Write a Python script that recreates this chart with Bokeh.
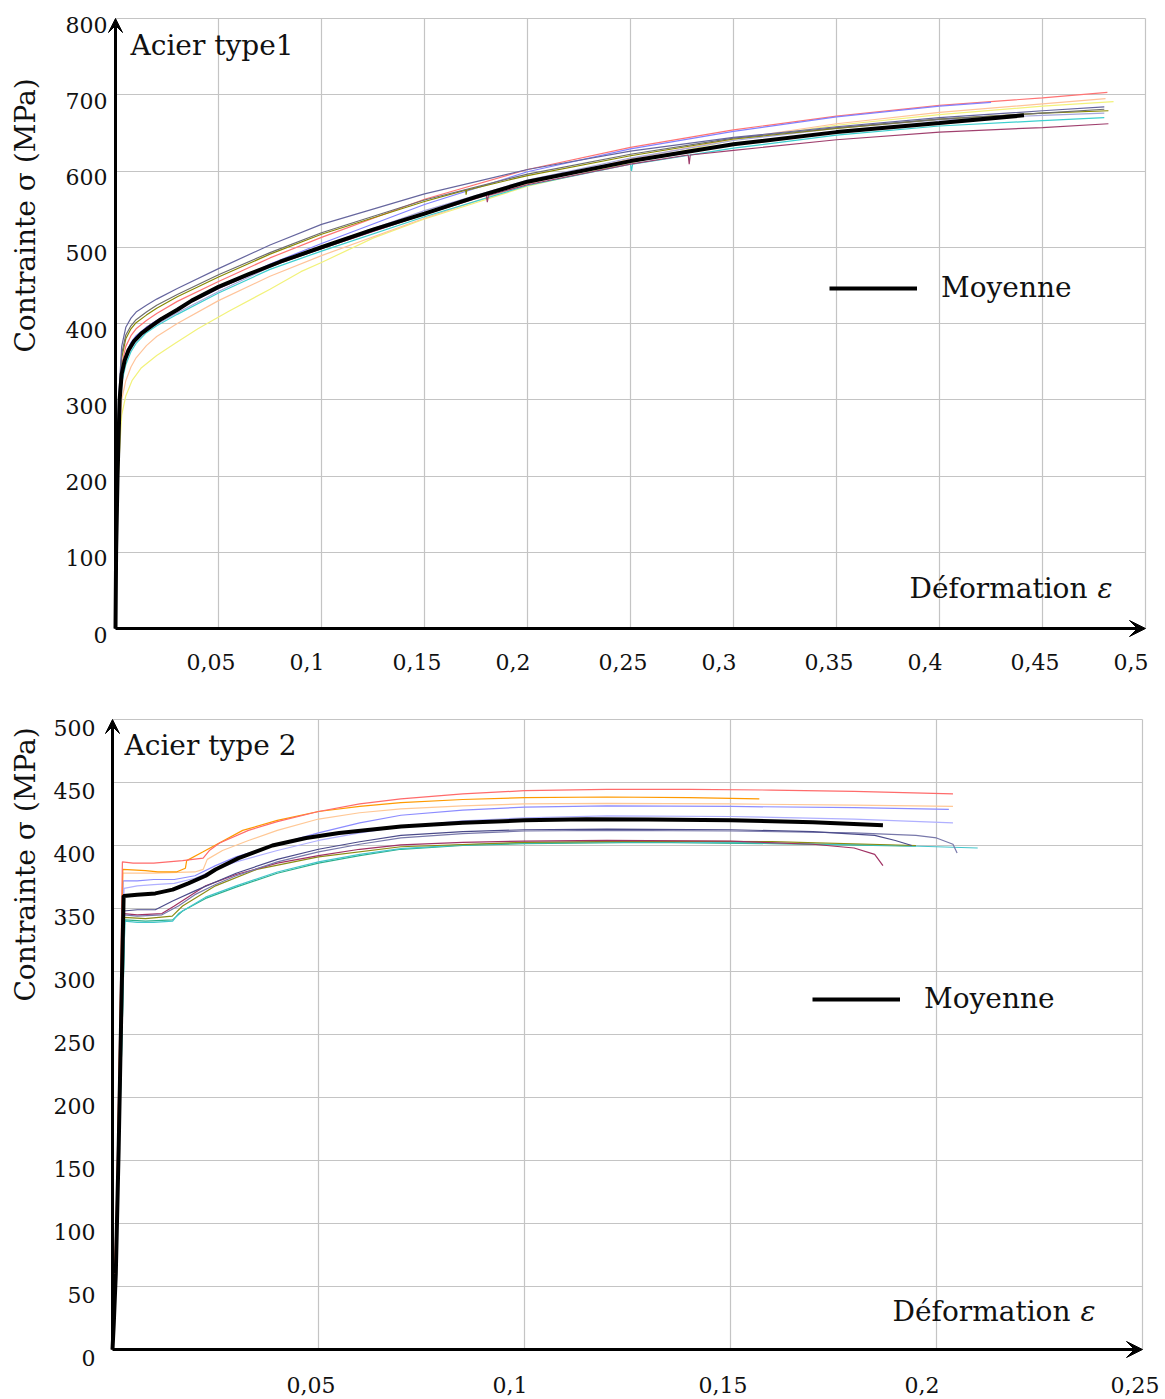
import math
from bokeh.plotting import figure
from bokeh.models import (Arrow, VeeHead, Grid, FixedTicker, ColumnDataSource,
                          Legend, LegendItem, Range1d)
from bokeh.layouts import column
from bokeh.embed import file_html
from bokeh.resources import INLINE
from bokeh.core.properties import value

FONT = "DejaVu Serif"

# ------------------------------------------------------------------ data: chart 1
t1_xticks = [0.05, 0.1, 0.15, 0.2, 0.25, 0.3, 0.35, 0.4, 0.45, 0.5]
t1_xlabels = ["0,05", "0,1", "0,15", "0,2", "0,25", "0,3", "0,35", "0,4", "0,45", "0,5"]
t1_yticks = [0, 100, 200, 300, 400, 500, 600, 700, 800]
t1_ylabels = ["0", "100", "200", "300", "400", "500", "600", "700", "800"]

t1_mean_x = [0, 0.0003, 0.001, 0.002, 0.003, 0.0045, 0.0063, 0.009, 0.0126, 0.0175, 0.0223, 0.03, 0.037, 0.05, 0.065, 0.08, 0.1, 0.125, 0.15, 0.175, 0.2, 0.25, 0.3, 0.35, 0.4, 0.441]
t1_mean_y = [0, 100, 200, 300, 334, 352, 365, 377, 387, 397, 406, 418, 430, 448, 465, 481, 500, 523, 544, 566, 586, 613, 635, 651, 663, 673]

t1_slate_x = [0, 0.0005, 0.0015, 0.003, 0.005, 0.0075, 0.01, 0.015, 0.02, 0.03, 0.05, 0.075, 0.1, 0.15, 0.2, 0.25, 0.3, 0.35, 0.4, 0.45, 0.48]
t1_slate_y = [0, 160, 300, 370, 395, 407, 415, 424, 432, 446, 472, 503, 530, 570, 602, 626, 644, 658, 670, 679, 684]

t1_gray_x = [0, 0.0005, 0.0015, 0.003, 0.005, 0.0075, 0.01, 0.015, 0.02, 0.03, 0.05, 0.075, 0.1, 0.15, 0.2, 0.25, 0.3, 0.35, 0.4, 0.45, 0.48]
t1_gray_y = [0, 150, 290, 360, 385, 397, 405, 415, 424, 438, 464, 493, 519, 562, 596, 622, 643, 657, 668, 676, 681]

t1_olive_x = [0, 0.0005, 0.0015, 0.003, 0.005, 0.0075, 0.01, 0.015, 0.02, 0.03, 0.05, 0.075, 0.1, 0.15, 0.17, 0.1702, 0.1705, 0.2, 0.25, 0.3, 0.35, 0.4, 0.45, 0.482]
t1_olive_y = [0, 150, 285, 355, 380, 393, 401, 411, 420, 435, 461, 491, 517, 560, 575, 569, 575, 594, 620, 642, 656, 668, 676, 679]

t1_red_x = [0, 0.0005, 0.0015, 0.003, 0.005, 0.0075, 0.01, 0.015, 0.02, 0.03, 0.05, 0.075, 0.1, 0.15, 0.2, 0.25, 0.3, 0.35, 0.4, 0.45, 0.4815]
t1_red_y = [0, 140, 270, 345, 370, 384, 393, 404, 413, 429, 455, 486, 513, 563, 602, 631, 654, 672, 686, 696, 703]

t1_blue_x = [0, 0.0005, 0.0015, 0.003, 0.005, 0.0075, 0.01, 0.015, 0.02, 0.03, 0.05, 0.075, 0.1, 0.15, 0.2, 0.25, 0.3, 0.35, 0.4, 0.425]
t1_blue_y = [0, 140, 270, 337, 360, 375, 384, 395, 404, 419, 446, 478, 505, 556, 599, 629, 652, 671, 685, 690]

t1_lav_x = [0, 0.0005, 0.0015, 0.003, 0.005, 0.0075, 0.01, 0.015, 0.02, 0.03, 0.05, 0.075, 0.1, 0.15, 0.2, 0.25, 0.3, 0.35, 0.4, 0.45, 0.48]
t1_lav_y = [0, 135, 265, 330, 352, 367, 377, 390, 399, 414, 442, 474, 501, 548, 588, 617, 640, 656, 667, 673, 676]

t1_maroon_x = [0, 0.0005, 0.0015, 0.003, 0.005, 0.0075, 0.01, 0.015, 0.02, 0.03, 0.05, 0.075, 0.1, 0.15, 0.18, 0.1805, 0.181, 0.2, 0.25, 0.278, 0.2785, 0.279, 0.3, 0.35, 0.4, 0.45, 0.482]
t1_maroon_y = [0, 135, 265, 335, 358, 372, 382, 395, 404, 419, 446, 475, 498, 543, 568, 559, 568, 582, 609, 621, 609, 621, 627, 641, 651, 657, 662]

t1_cyan_x = [0, 0.0005, 0.0015, 0.003, 0.005, 0.0075, 0.01, 0.015, 0.02, 0.03, 0.05, 0.075, 0.1, 0.15, 0.2, 0.25, 0.2505, 0.251, 0.3, 0.35, 0.4, 0.45, 0.48]
t1_cyan_y = [0, 130, 255, 322, 346, 363, 374, 388, 397, 412, 440, 471, 495, 540, 581, 609, 600, 609, 630, 647, 659, 666, 670]

t1_peach_x = [0, 0.0005, 0.0015, 0.003, 0.005, 0.0075, 0.01, 0.015, 0.02, 0.03, 0.05, 0.075, 0.1, 0.15, 0.2, 0.25, 0.3, 0.35, 0.4, 0.45, 0.4806]
t1_peach_y = [0, 120, 240, 300, 325, 343, 355, 371, 383, 400, 430, 462, 489, 538, 583, 616, 642, 662, 677, 688, 695]

t1_yellow_x = [0, 0.0005, 0.0015, 0.003, 0.005, 0.008, 0.0126, 0.02, 0.029, 0.04, 0.055, 0.075, 0.09, 0.1, 0.125, 0.15, 0.2, 0.25, 0.3, 0.35, 0.4, 0.45, 0.4845]
t1_yellow_y = [0, 100, 210, 280, 305, 325, 342, 358, 374, 393, 416, 445, 468, 480, 512, 537, 580, 611, 641, 660, 674, 685, 691]

# ------------------------------------------------------------------ data: chart 2
t2_xticks = [0.05, 0.1, 0.15, 0.2, 0.25]
t2_xlabels = ["0,05", "0,1", "0,15", "0,2", "0,25"]
t2_yticks = [0, 50, 100, 150, 200, 250, 300, 350, 400, 450, 500]
t2_ylabels = ["0", "50", "100", "150", "200", "250", "300", "350", "400", "450", "500"]

t2_mean_x = [0, 0.0003, 0.0008, 0.0015, 0.0022, 0.0027, 0.006, 0.0104, 0.0146, 0.0184, 0.0226, 0.025, 0.0306, 0.0388, 0.047, 0.055, 0.07, 0.085, 0.1, 0.115, 0.13, 0.15, 0.17, 0.187]
t2_mean_y = [0, 20, 60, 160, 280, 360, 361, 362, 365, 370, 376, 381, 390, 400, 406, 410, 415, 418, 420, 420.8, 420.6, 420, 418.5, 416]

t2_red_x = [0, 0.001, 0.002, 0.0024, 0.005, 0.01, 0.017, 0.022, 0.0235, 0.026, 0.033, 0.04, 0.05, 0.06, 0.07, 0.085, 0.1, 0.12, 0.14, 0.16, 0.18, 0.204]
t2_red_y = [0, 120, 300, 387, 386, 386, 388, 390, 396, 402, 412, 419, 427, 433, 437, 441, 443.5, 444.5, 444.5, 444, 443, 441]

t2_orange_x = [0, 0.001, 0.002, 0.0025, 0.008, 0.011, 0.0155, 0.0177, 0.018, 0.022, 0.0316, 0.04, 0.05, 0.06, 0.07, 0.085, 0.1, 0.12, 0.14, 0.157]
t2_orange_y = [0, 110, 290, 381, 380, 379, 379, 382, 388, 395, 412, 420, 427, 431, 434, 436.5, 438, 438.5, 438, 437]

t2_peach_x = [0, 0.001, 0.002, 0.0025, 0.01, 0.02, 0.022, 0.023, 0.0267, 0.033, 0.04, 0.05, 0.06, 0.07, 0.085, 0.1, 0.12, 0.15, 0.18, 0.204]
t2_peach_y = [0, 105, 280, 378, 378, 379, 381, 389, 396, 404, 412, 421, 426, 429, 431.5, 433, 433.5, 433, 432, 431]

t2_blue_x = [0, 0.001, 0.002, 0.0026, 0.006, 0.01, 0.015, 0.02, 0.025, 0.03, 0.04, 0.05, 0.06, 0.07, 0.085, 0.1, 0.12, 0.15, 0.18, 0.203]
t2_blue_y = [0, 100, 270, 372, 372, 373, 373, 376, 384, 391, 401, 410, 418, 424, 428, 430.5, 431.5, 431, 430, 428.6]

t2_lav_x = [0, 0.001, 0.002, 0.0028, 0.006, 0.01, 0.015, 0.02, 0.025, 0.03, 0.04, 0.05, 0.06, 0.07, 0.085, 0.1, 0.12, 0.15, 0.18, 0.204]
t2_lav_y = [0, 90, 250, 366, 368, 369, 370, 374, 381, 387, 396, 404, 410, 415, 419.5, 422, 423.5, 423, 421, 418]

t2_slate1_x = [0, 0.001, 0.002, 0.0027, 0.006, 0.0104, 0.0146, 0.02, 0.025, 0.03, 0.04, 0.05, 0.06, 0.07, 0.085, 0.1, 0.12, 0.15, 0.17, 0.185, 0.19, 0.194]
t2_slate1_y = [0, 90, 240, 348, 349, 349, 356, 364, 371, 378, 389, 397, 403, 408, 411, 412.5, 413, 412.5, 411, 408, 404, 400]

t2_slate2_x = [0, 0.001, 0.002, 0.0028, 0.006, 0.012, 0.016, 0.02, 0.025, 0.03, 0.04, 0.05, 0.06, 0.07, 0.085, 0.1, 0.12, 0.15, 0.18, 0.195, 0.2, 0.204, 0.205]
t2_slate2_y = [0, 85, 230, 345, 344, 345, 352, 361, 369, 376, 387, 395, 401, 406, 409.5, 411.5, 412, 411.5, 410, 408, 406, 401, 394]

t2_maroon_x = [0, 0.001, 0.002, 0.0027, 0.006, 0.012, 0.015, 0.0226, 0.03, 0.04, 0.05, 0.06, 0.07, 0.085, 0.1, 0.12, 0.15, 0.17, 0.18, 0.185, 0.187]
t2_maroon_y = [0, 90, 230, 346, 345, 346, 352, 368, 377, 386, 392, 397, 400.5, 402.5, 403.5, 404, 403.5, 401, 398, 393, 384]

t2_olive_x = [0, 0.001, 0.002, 0.0027, 0.008, 0.0145, 0.017, 0.025, 0.035, 0.05, 0.07, 0.1, 0.13, 0.16, 0.195]
t2_olive_y = [0, 85, 220, 343, 342, 344, 352, 368, 381, 391, 399, 402.5, 403.5, 403, 400]

t2_cyan_x = [0, 0.001, 0.002, 0.003, 0.006, 0.01, 0.0146, 0.016, 0.0226, 0.03, 0.04, 0.05, 0.06, 0.07, 0.085, 0.1, 0.13, 0.16, 0.19, 0.21]
t2_cyan_y = [0, 80, 210, 340, 339, 339, 340, 346, 359, 368, 379, 387, 393, 397.5, 400.5, 402, 403, 402, 400, 398]

t2_teal_x = [0, 0.001, 0.002, 0.003, 0.008, 0.0146, 0.017, 0.0226, 0.03, 0.04, 0.05, 0.06, 0.07, 0.085, 0.1, 0.13, 0.16, 0.195]
t2_teal_y = [0, 80, 210, 341, 340, 341, 348, 358, 367, 378, 386, 392, 397, 400, 401.5, 402.5, 401.5, 399.5]

# ------------------------------------------------------------------ helpers
GRID_COLOR = "#c4c4c4"
PAGE_W = 1165


def make_panel(fig_top, H, ox, oy, sx, sy, xmax, ymax,
               xticks, xlabels, yticks, ylabels, series, mean_x, mean_y,
               title, title_px, ytitle_py, xtitle_px, xtitle_py,
               ylab_dx, ylab_dy, xlab_dy, legend_px, legend_py):
    left = 0
    W = PAGE_W
    px2x = lambda px: (px - ox) / sx
    py2y = lambda py: (oy - py) / sy
    p = figure(width=W, height=H, output_backend="svg", toolbar_location=None,
               x_axis_location=None, y_axis_location=None,
               x_range=Range1d(px2x(left), px2x(left + W)),
               y_range=Range1d(py2y(fig_top + H), py2y(fig_top)),
               min_border=0, outline_line_color=None)
    p.min_border_left = p.min_border_right = p.min_border_top = p.min_border_bottom = 0
    p.background_fill_color = "white"
    p.border_fill_color = "white"
    # drop the automatic grids, keep only the bounded ones below
    p.center = [r for r in p.center if not isinstance(r, Grid)]

    p.add_layout(Grid(dimension=0, ticker=FixedTicker(ticks=xticks), bounds=(0, xmax),
                      cross_bounds=(0, ymax), grid_line_color=GRID_COLOR, grid_line_width=1.2))
    p.add_layout(Grid(dimension=1, ticker=FixedTicker(ticks=[t for t in yticks if t > 0]),
                      bounds=(0, ymax), cross_bounds=(0, xmax),
                      grid_line_color=GRID_COLOR, grid_line_width=1.2))

    for xs, ys, col in series:
        p.line(xs, ys, line_color=col, line_width=1.2)
    mean_r = p.line(mean_x, mean_y, line_color="black", line_width=4)

    # axes with arrow heads
    p.add_layout(Arrow(end=VeeHead(size=16, fill_color="black", line_color="black", line_width=1),
                       x_start=0, y_start=0, x_end=xmax, y_end=0,
                       line_color="black", line_width=3))
    p.add_layout(Arrow(end=VeeHead(size=14, fill_color="black", line_color="black", line_width=1),
                       x_start=0, y_start=0, x_end=0, y_end=ymax,
                       line_color="black", line_width=3))

    # tick labels
    ysrc = ColumnDataSource(dict(x=[0] * len(yticks), y=yticks, t=ylabels))
    p.text(x="x", y="y", text="t", source=ysrc, text_font=value(FONT), text_font_size="22px",
           text_align="right", text_baseline="middle", x_offset=ylab_dx, y_offset=ylab_dy,
           text_color="#111111")
    xsrc = ColumnDataSource(dict(x=xticks, y=[0] * len(xticks), t=xlabels))
    p.text(x="x", y="y", text="t", source=xsrc, text_font=value(FONT), text_font_size="22px",
           text_align="left", text_baseline="middle", x_offset=-32, y_offset=xlab_dy,
           text_color="#111111")

    # titles
    p.text(x=[px2x(title_px[0])], y=[py2y(title_px[1])], text=[title],
           text_font=value(FONT), text_font_size="28px", text_align="left",
           text_baseline="middle", text_color="#111111")
    p.text(x=[px2x(25)], y=[py2y(ytitle_py)], text=["Contrainte σ (MPa)"],
           text_font=value(FONT), text_font_size="28px", text_align="center",
           text_baseline="middle", angle=math.pi / 2, text_color="#111111")
    p.text(x=[px2x(xtitle_px - 28)], y=[py2y(xtitle_py)], text=["Déformation"],
           text_font=value(FONT), text_font_size="28px", text_align="right",
           text_baseline="middle", text_color="#111111")
    p.text(x=[px2x(xtitle_px - 18)], y=[py2y(xtitle_py)], text=["ε"],
           text_font=value(FONT), text_font_size="28px", text_font_style="italic",
           text_align="left", text_baseline="middle", text_color="#111111")

    legend = Legend(items=[LegendItem(label="Moyenne", renderers=[mean_r])],
                    location=(legend_px - left, (fig_top + H) - legend_py - 15),
                    glyph_width=88, glyph_height=30, label_height=30, label_standoff=24,
                    padding=0, margin=0, spacing=0, border_line_alpha=0,
                    background_fill_alpha=0, label_text_font=FONT,
                    label_text_font_size="28px", label_text_color="#111111")
    p.add_layout(legend)
    return p


series1 = [
    (t1_yellow_x, t1_yellow_y, "#f2f27a"),
    (t1_peach_x, t1_peach_y, "#ffc49a"),
    (t1_cyan_x, t1_cyan_y, "#3ccfcf"),
    (t1_maroon_x, t1_maroon_y, "#a0406e"),
    (t1_lav_x, t1_lav_y, "#a6a6dc"),
    (t1_red_x, t1_red_y, "#ff7474"),
    (t1_blue_x, t1_blue_y, "#8282ff"),
    (t1_olive_x, t1_olive_y, "#8a8a00"),
    (t1_gray_x, t1_gray_y, "#6e6e6e"),
    (t1_slate_x, t1_slate_y, "#66669e"),
]

series2 = [
    (t2_teal_x, t2_teal_y, "#2eb08c"),
    (t2_cyan_x, t2_cyan_y, "#44c6cc"),
    (t2_olive_x, t2_olive_y, "#8c8c14"),
    (t2_maroon_x, t2_maroon_y, "#a03264"),
    (t2_slate2_x, t2_slate2_y, "#7878aa"),
    (t2_slate1_x, t2_slate1_y, "#4b4b8a"),
    (t2_lav_x, t2_lav_y, "#b0b0ff"),
    (t2_blue_x, t2_blue_y, "#8c8cff"),
    (t2_peach_x, t2_peach_y, "#ffc896"),
    (t2_orange_x, t2_orange_y, "#ff9a00"),
    (t2_red_x, t2_red_y, "#ff6b6b"),
]

p1 = make_panel(fig_top=0, H=700, ox=115, oy=628, sx=2060, sy=0.7625,
                xmax=0.5, ymax=800, xticks=t1_xticks, xlabels=t1_xlabels,
                yticks=t1_yticks, ylabels=t1_ylabels, series=series1,
                mean_x=t1_mean_x, mean_y=t1_mean_y,
                title="Acier type1", title_px=(130, 45), ytitle_py=215,
                xtitle_px=1115, xtitle_py=588, ylab_dx=-8, ylab_dy=6, xlab_dy=33,
                legend_px=829, legend_py=289)

p2 = make_panel(fig_top=700, H=699, ox=112, oy=1349, sx=4120, sy=1.26,
                xmax=0.25, ymax=500, xticks=t2_xticks, xlabels=t2_xlabels,
                yticks=t2_yticks, ylabels=t2_ylabels, series=series2,
                mean_x=t2_mean_x, mean_y=t2_mean_y,
                title="Acier type 2", title_px=(124, 745), ytitle_py=864,
                xtitle_px=1098, xtitle_py=1311, ylab_dx=-17, ylab_dy=8, xlab_dy=35,
                legend_px=812, legend_py=1000)

layout = column(p1, p2, spacing=0)
open("out.html", "w").write(file_html(layout, INLINE))
